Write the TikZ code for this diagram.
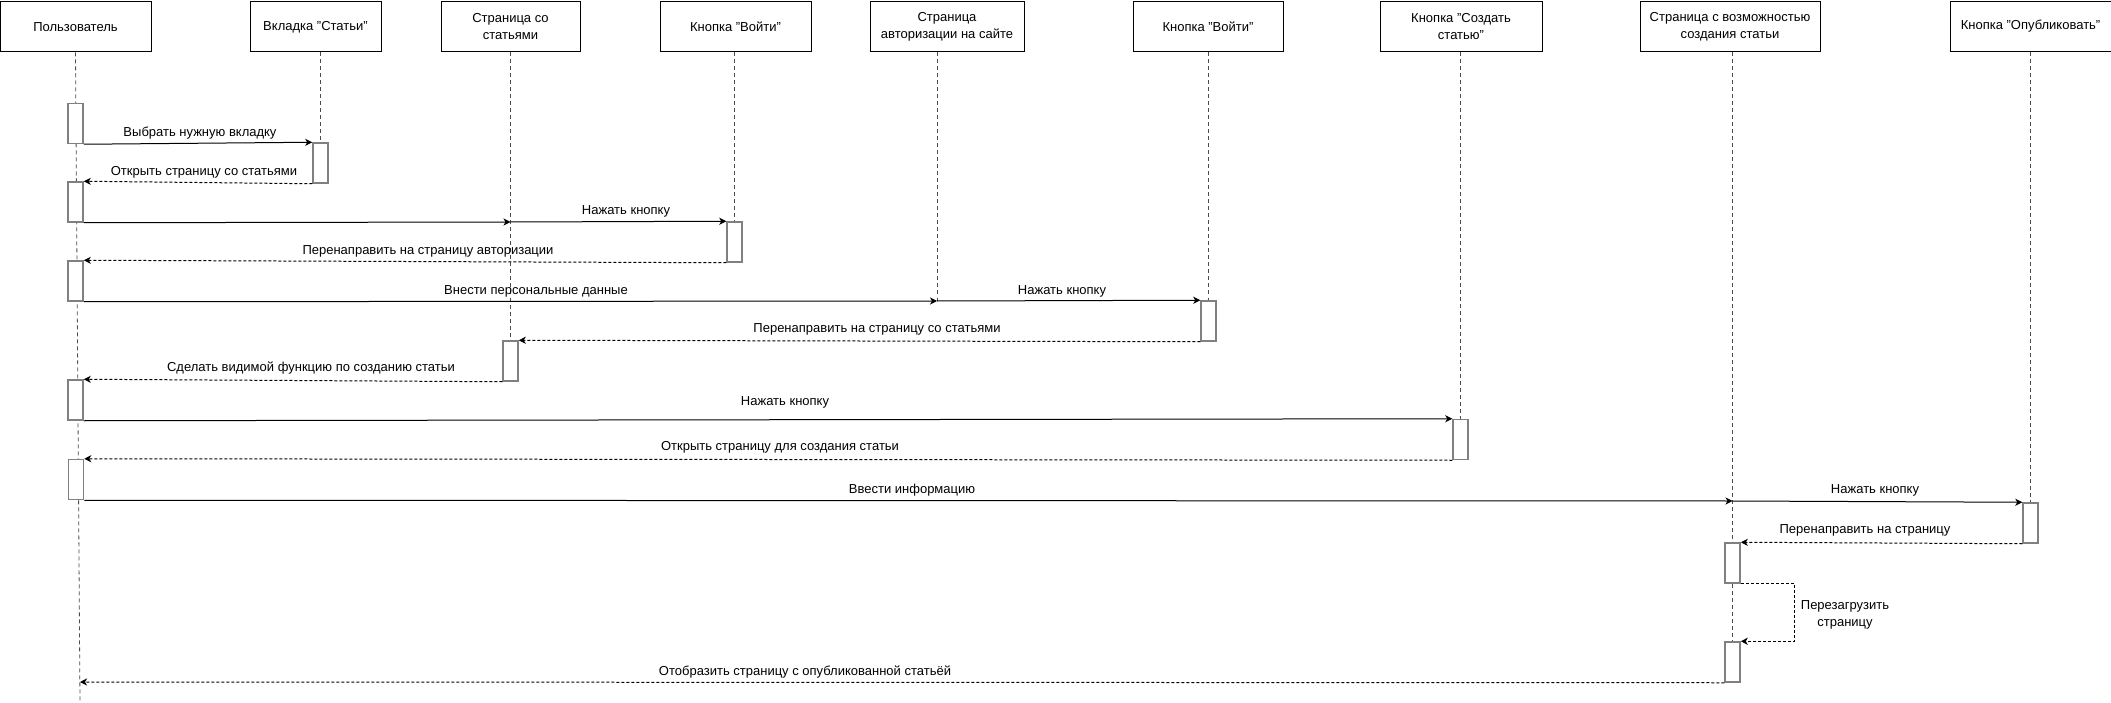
\documentclass[tikz,border=0pt]{standalone}
\usepackage{fontspec}
\setmainfont{Liberation Sans}
\usetikzlibrary{arrows.meta,backgrounds}
\begin{document}
\begin{tikzpicture}[x=1pt,y=-1pt,
    font=\fontsize{13}{17}\selectfont,
    actor/.style={draw,line width=1pt,minimum height=50pt,inner sep=2pt,align=center},
    activ/.style={draw=black!50,line width=1.5pt,fill=white,minimum width=15pt,minimum height=40pt,inner sep=0pt},
    lifeline/.style={draw=black!70,dash pattern=on 4pt off 3pt,line width=0.8pt},
    call/.style={-{Stealth[length=7pt,width=7pt,inset=2pt]},line width=1pt},
    reply/.style={call,dash pattern=on 3pt off 2pt},
    msg/.style={inner sep=0pt,align=center}]
  \useasboundingbox (0,0) rectangle (2111,703);
  \node[actor,minimum width=151pt] (user) at (75.5,27) {Пользователь};
  \node[actor,minimum width=131pt] (tab) at (315.5,27) {Вкладка "Статьи"};
  \node[actor,minimum width=139pt] (art) at (510.5,27) {Страница со\\статьями};
  \node[actor,minimum width=151pt] (btn1) at (735.5,27) {Кнопка "Войти"};
  \node[actor,minimum width=154pt] (auth) at (947,27) {Страница\\авторизации на сайте};
  \node[actor,minimum width=150pt] (btn2) at (1208,27) {Кнопка "Войти"};
  \node[actor,minimum width=162pt] (create) at (1461,26.5) {Кнопка "Создать\\статью"};
  \node[actor,minimum width=180pt] (editor) at (1730,26.5) {Страница с возможностью\\создания статьи};
  \node[actor,minimum width=161pt] (publish) at (2030.5,26.5) {Кнопка "Опубликовать"};

  \node[activ] (ua1) at (75.5,123.5) {};
  \node[activ] (ta1) at (320.5,163) {};
  \node[activ] (ua2) at (75.5,202) {};
  \node[activ] (ka1) at (734.5,242) {};
  \node[activ] (ua3) at (75.5,281) {};
  \node[activ] (kb1) at (1208.5,321) {};
  \node[activ] (pa1) at (510.5,361) {};
  \node[activ] (ua4) at (75.5,400) {};
  \node[activ] (sa1) at (1460.5,439.5) {};
  \node[activ] (ua5) at (76,479.5) {};
  \node[activ] (oa1) at (2030.5,523) {};
  \node[activ] (pb1) at (1732.5,563) {};
  \node[activ] (pb2) at (1732.5,662) {};

  \coordinate (artm) at (510.5,222);
  \coordinate (authm) at (937,301);
  \coordinate (edm) at (1732.5,501);
  \coordinate (uret) at (80,682);
  \coordinate (uend) at (80,703);

  \begin{scope}[on background layer]
    \draw[lifeline] (user.south) -- (uend);
    \draw[lifeline] (tab.south -| ta1) -- (ta1.north);
    \draw[lifeline] (art.south -| pa1) -- (pa1.north);
    \draw[lifeline] (btn1.south -| ka1) -- (ka1.north);
    \draw[lifeline] (auth.south -| authm) -- (authm);
    \draw[lifeline] (btn2.south -| kb1) -- (kb1.north);
    \draw[lifeline] (create.south -| sa1) -- (sa1.north);
    \draw[lifeline] (editor.south -| pb1) -- (pb2.north);
    \draw[lifeline] (publish.south -| oa1) -- (oa1.north);
  \end{scope}

  \begin{scope}
    \draw[call] (ua1.south east) -- (ta1.north west);
    \draw[reply] (ta1.south west) -- (ua2.north east);
    \draw[call] (ua2.south east) -- (artm);
    \draw[call] (artm) -- (ka1.north west);
    \draw[reply] (ka1.south west) -- (ua3.north east);
    \draw[call] (ua3.south east) -- (authm);
    \draw[call] (authm) -- (kb1.north west);
    \draw[reply] (kb1.south west) -- (pa1.north east);
    \draw[reply] (pa1.south west) -- (ua4.north east);
    \draw[call] (ua4.south east) -- (sa1.north west);
    \draw[reply] (sa1.south west) -- (ua5.north east);
    \draw[call] (ua5.south east) -- (edm);
    \draw[call] (edm) -- (oa1.north west);
    \draw[reply] (oa1.south west) -- (pb1.north east);
    \draw[reply] (pb1.south east) -- ++(54,0) |- (pb2.north east);
    \draw[reply] (pb2.south west) -- (uret);
  \end{scope}

  \node[msg] (l1) at (200,133) {Выбрать нужную вкладку};
  \node[msg] (l2) at (204,172) {Открыть страницу со статьями};
  \node[msg] (l3) at (626,211) {Нажать кнопку};
  \node[msg] (l4) at (428,251) {Перенаправить на страницу авторизации};
  \node[msg] (l5) at (536,291) {Внести персональные данные};
  \node[msg] (l6) at (1062,291) {Нажать кнопку};
  \node[msg] (l7) at (877,329) {Перенаправить на страницу со статьями};
  \node[msg] (l8) at (311,368) {Сделать видимой функцию по созданию статьи};
  \node[msg] (l9) at (785,402) {Нажать кнопку};
  \node[msg] (l10) at (780,447) {Открыть страницу для создания статьи};
  \node[msg] (l11) at (912,490) {Ввести информацию};
  \node[msg] (l12) at (1875,490) {Нажать кнопку};
  \node[msg] (l13) at (1865,530) {Перенаправить на страницу};
  \node[msg] (l14) at (1845,615) {Перезагрузить\\страницу};
  \node[msg] (l15) at (805,672) {Отобразить страницу с опубликованной статьёй};
\end{tikzpicture}
\end{document}
